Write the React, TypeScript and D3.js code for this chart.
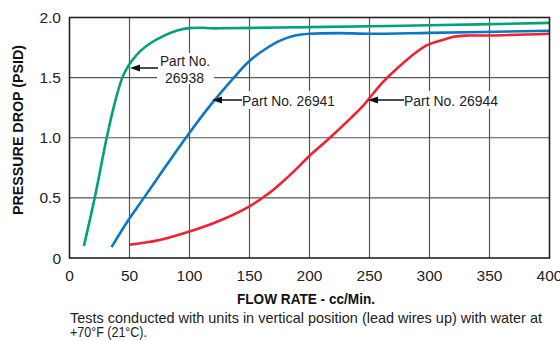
import React from "react";
import * as d3 from "d3";

const xTicks = [0, 50, 100, 150, 200, 250, 300, 350, 400];
const yTicks = [0, 0.5, 1.0, 1.5, 2.0];
const yTickLabels = ["0", "0.5", "1.0", "1.5", "2.0"];

const green: [number, number][] = [
  [12, 0.1], [21, 0.5], [31, 1.0], [38, 1.3], [44, 1.5], [48, 1.58], [52, 1.64], [59, 1.72],
  [68, 1.79], [76, 1.835], [85, 1.875], [93, 1.9], [100, 1.912], [110, 1.915], [118, 1.91],
  [125, 1.91], [200, 1.92], [300, 1.935], [400, 1.955],
];
const blue: [number, number][] = [
  [35, 0.09], [48, 0.3], [62, 0.5], [80, 0.76], [97, 1.0], [115, 1.24], [130, 1.42], [137, 1.5],
  [149, 1.63], [162, 1.73], [176, 1.81], [188, 1.85], [200, 1.865], [225, 1.87], [250, 1.865],
  [300, 1.872], [400, 1.89],
];
const red: [number, number][] = [
  [50, 0.11], [75, 0.15], [100, 0.22], [125, 0.31], [150, 0.43], [165, 0.53], [176, 0.62],
  [190, 0.75], [199, 0.84], [217, 1.0], [235, 1.17], [245, 1.27], [250, 1.33], [260, 1.45],
  [268, 1.53], [285, 1.68], [298, 1.77], [310, 1.81], [320, 1.84], [332, 1.85], [350, 1.85],
  [400, 1.865],
];

const seriesColors = ["#00a27b", "#0a78c6", "#ee2233"];

const FONT = "'Liberation Sans', Arial, sans-serif";

export default function App() {
  const W = 560, H = 341;
  const x = d3.scaleLinear().domain([0, 400]).range([69.5, 549.5]);
  const y = d3.scaleLinear().domain([0, 2]).range([258, 17.5]);
  const line = d3
    .line<[number, number]>()
    .x((d) => x(d[0]))
    .y((d) => y(d[1]))
    .curve(d3.curveCatmullRom.alpha(0.5));
  const data = [green, blue, red];

  const arrows = [
    { y: 68, tip: 130, start: 158 },
    { y: 100, tip: 212, start: 242 },
    { y: 100, tip: 368, start: 404 },
  ];

  return (
    <svg width={W} height={H} style={{ position: "absolute", left: 0, top: 0 }}>
      <rect width={W} height={H} fill="#fff" />
      {/* grid */}
      {xTicks.slice(1, -1).map((t) => (
        <line key={"gx" + t} x1={x(t)} x2={x(t)} y1={y(0)} y2={y(2)} stroke="#555" strokeWidth={1.2} />
      ))}
      {yTicks.slice(1, -1).map((t) => (
        <line key={"gy" + t} x1={x(0)} x2={x(400)} y1={y(t)} y2={y(t)} stroke="#555" strokeWidth={1.2} />
      ))}
      {/* label backgrounds */}
      <rect x={157} y={53} width={57} height={31} fill="#fff" />
      <rect x={240} y={91} width={97} height={18} fill="#fff" />
      <rect x={402} y={91} width={98} height={18} fill="#fff" />
      {/* curves */}
      {data.map((d, i) => (
        <path key={i} d={line(d) || ""} fill="none" stroke={seriesColors[i]} strokeWidth={2.6} />
      ))}
      {/* frame */}
      <rect x={x(0)} y={y(2)} width={x(400) - x(0)} height={y(0) - y(2)} fill="none" stroke="#222" strokeWidth={1.6} />
      {/* annotation arrows */}
      {arrows.map((a, i) => (
        <g key={"a" + i}>
          <line x1={a.start} x2={a.tip + 9} y1={a.y} y2={a.y} stroke="#111" strokeWidth={1.5} />
          <path d={`M${a.tip},${a.y} L${a.tip + 10},${a.y - 3.5} L${a.tip + 10},${a.y + 3.5} Z`} fill="#111" />
        </g>
      ))}
      <text x={160} y={66} textLength={50} lengthAdjust="spacingAndGlyphs" fontFamily={FONT} fontSize={15.5} fill="#222">Part No.</text>
      <text x={165} y={82.5} textLength={39} lengthAdjust="spacingAndGlyphs" fontFamily={FONT} fontSize={15.5} fill="#222">26938</text>
      <text x={242} y={105.5} textLength={93} lengthAdjust="spacingAndGlyphs" fontFamily={FONT} fontSize={15.5} fill="#222">Part No. 26941</text>
      <text x={404} y={105.5} textLength={94} lengthAdjust="spacingAndGlyphs" fontFamily={FONT} fontSize={15.5} fill="#222">Part No. 26944</text>
      {/* tick labels */}
      {yTicks.map((t, i) => (
        <text key={"yl" + t} x={61} y={y(t) + 5.5} textAnchor="end" fontFamily={FONT} fontSize={15.5} fill="#222">
          {yTickLabels[i]}
        </text>
      ))}
      {xTicks.map((t) => (
        <text key={"xl" + t} x={x(t)} y={281} textAnchor="middle" fontFamily={FONT} fontSize={15.5} fill="#222">
          {t}
        </text>
      ))}
      {/* axis titles */}
      <text x={237} y={304} textLength={138} lengthAdjust="spacingAndGlyphs" fontFamily={FONT} fontSize={15} fontWeight="bold" fill="#111">
        FLOW RATE - cc/Min.
      </text>
      <text transform={`translate(23,215) rotate(-90)`} textLength={170} lengthAdjust="spacingAndGlyphs" fontFamily={FONT} fontSize={15} fontWeight="bold" fill="#111">
        PRESSURE DROP (PSID)
      </text>
      <text x={70} y={322.5} textLength={472} lengthAdjust="spacingAndGlyphs" fontFamily={FONT} fontSize={15} fill="#222">
        Tests conducted with units in vertical position (lead wires up) with water at
      </text>
      <text x={70} y={337} textLength={77} lengthAdjust="spacingAndGlyphs" fontFamily={FONT} fontSize={15} fill="#222">
        +70°F (21°C).
      </text>
    </svg>
  );
}
